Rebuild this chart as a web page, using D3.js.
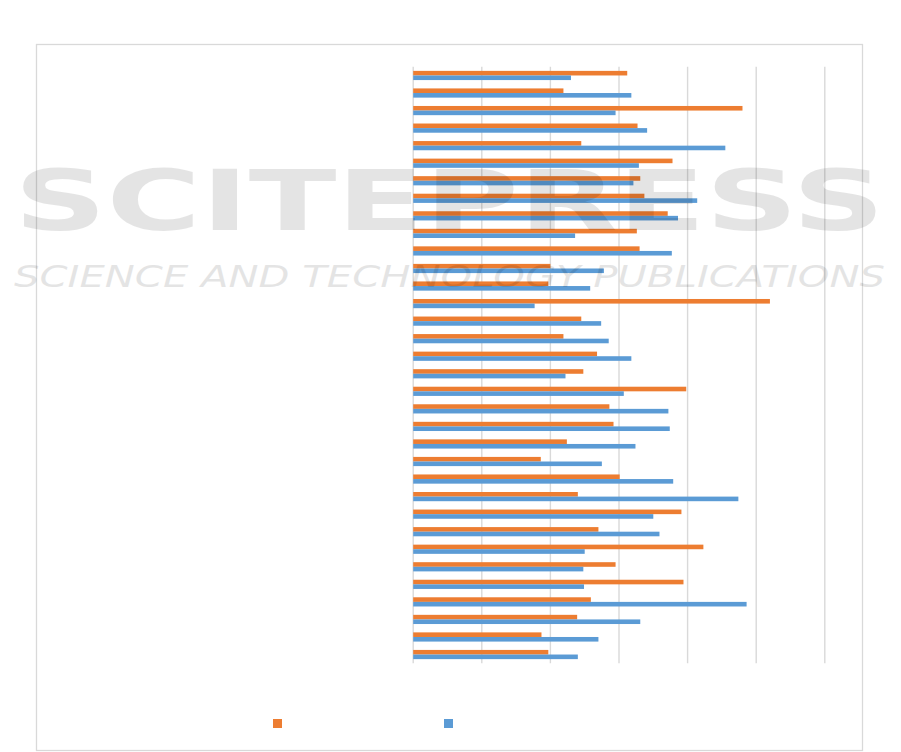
<!DOCTYPE html>
<html>
<head>
<meta charset="utf-8">
<script src="https://cdn.jsdelivr.net/npm/d3@7"></script>
<style>
  html, body { margin: 0; padding: 0; background: #fff; }
  svg { display: block; }
</style>
</head>
<body>
<svg id="chart" width="901" height="752"></svg>
<script>
const categories = ["1","2","3","4","5","6","7","8","9","10","11","12","13","14","15","16","17",
  "18","19","20","21","22","23","24","25","26","27","28","29","30","31","32","33","34"];
const seriesNames = ["Series 1", "Series 2"];
const seriesOrange = [31.2,21.9,48.0,32.7,24.5,37.8,33.1,33.7,37.1,32.6,33.0,20.0,19.7,52.0,24.5,21.9,26.8,
  24.8,39.8,28.6,29.2,22.4,18.6,30.1,24.0,39.1,27.0,42.3,29.5,39.4,25.9,23.9,18.7,19.7];
const seriesBlue = [23.0,31.8,29.5,34.1,45.5,32.9,32.1,41.4,38.6,23.6,37.7,27.8,25.8,17.7,27.4,28.5,31.8,
  22.2,30.7,37.2,37.4,32.4,27.5,37.9,47.4,35.0,35.9,25.0,24.8,24.9,48.6,33.1,27.0,24.0];
const tickValues = [0,10,20,30,40,50,60];
const colors = ["#ED7D31", "#5B9BD5"];

(function () {
const svg = d3.select("#chart");

// outer chart border
svg.append("rect")
  .attr("x", 36.5).attr("y", 44.5)
  .attr("width", 826).attr("height", 706)
  .attr("fill", "#fff").attr("stroke", "#D9D9D9").attr("stroke-width", 1.3);

const pLeft = 412.7, pRight = 824.3, pTop = 66.7, pBottom = 663.3;
const x = d3.scaleLinear().domain([0, 60]).range([pLeft, pRight]);
const y = d3.scaleBand().domain(categories).range([pTop, pBottom]).padding(0);
const inner = d3.scaleBand().domain(seriesNames)
  .range([y.bandwidth() / 2 - 4.6, y.bandwidth() / 2 + 4.6]).padding(0);

// gridlines
const grid = svg.append("g")
  .attr("transform", `translate(0,${pBottom})`)
  .call(d3.axisBottom(x).tickValues(tickValues).tickSize(-(pBottom - pTop)).tickFormat(""));
grid.select(".domain").remove();
grid.selectAll(".tick line").attr("stroke", "#D9D9D9").attr("stroke-width", 1.4);

const rows = categories.map((c, i) => ({cat: c, vals: [seriesOrange[i], seriesBlue[i]]}));

const g = svg.append("g");
const rowG = g.selectAll("g.row").data(rows).join("g")
  .attr("class", "row")
  .attr("transform", d => `translate(0,${y(d.cat)})`);

rowG.selectAll("rect")
  .data(d => d.vals.map((v, k) => ({name: seriesNames[k], v, k})))
  .join("rect")
  .attr("x", x(0) + 0.5)
  .attr("y", d => inner(d.name))
  .attr("width", d => x(d.v) - x(0))
  .attr("height", inner.bandwidth())
  .attr("fill", d => colors[d.k]);

// legend markers (no legend text in the reference)
const legendX = [273, 444];
svg.selectAll("rect.leg").data(seriesNames).join("rect")
  .attr("class", "leg")
  .attr("x", (d, i) => legendX[i]).attr("y", 719)
  .attr("width", 9).attr("height", 9)
  .attr("fill", (d, i) => colors[i]);

// faint publisher watermark drawn over the chart
const wm = svg.append("g").attr("fill", "#000").attr("opacity", 0.1)
  .style("pointer-events", "none");
wm.append("text")
  .attr("x", 14).attr("y", 230)
  .attr("textLength", 871).attr("lengthAdjust", "spacingAndGlyphs")
  .attr("font-family", "DejaVu Sans").attr("font-weight", "bold").attr("font-size", 84)
  .text("SCITEPRESS");
wm.append("text")
  .attr("x", 14).attr("y", 287)
  .attr("textLength", 871).attr("lengthAdjust", "spacingAndGlyphs")
  .attr("font-family", "DejaVu Sans").attr("font-style", "italic").attr("font-size", 30)
  .text("SCIENCE AND TECHNOLOGY PUBLICATIONS");
})();
</script>
</body>
</html>
